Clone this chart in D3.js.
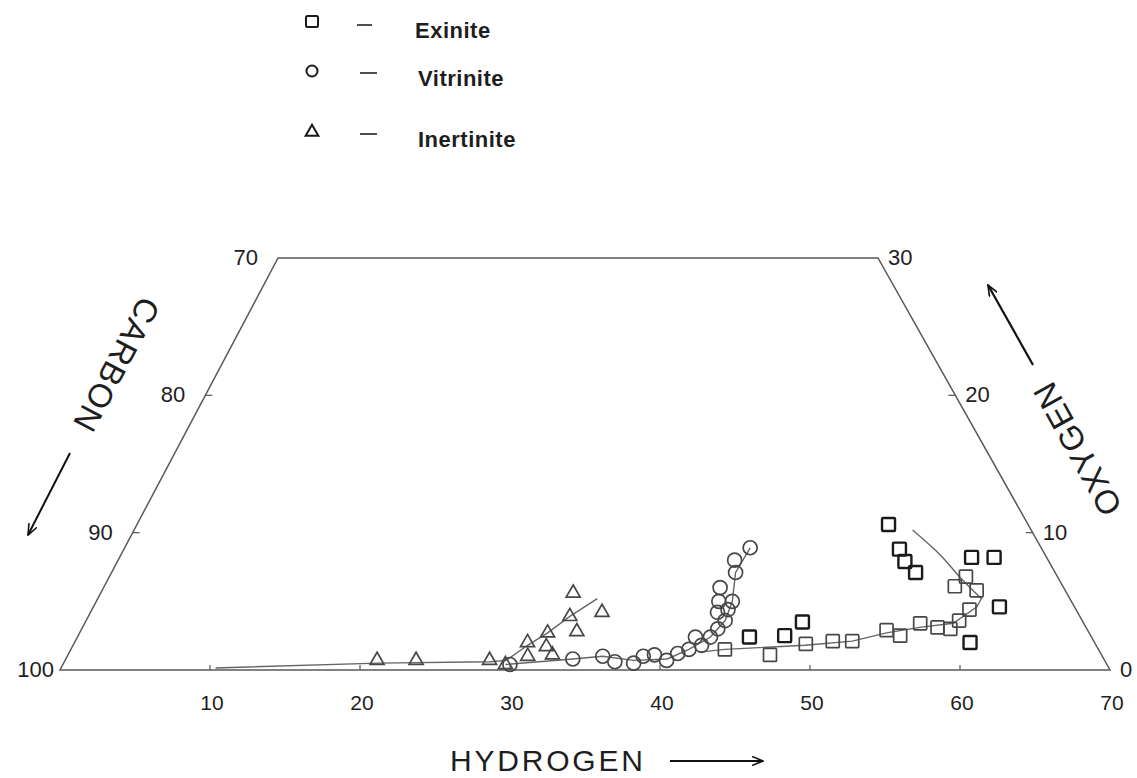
<!DOCTYPE html>
<html lang="en">
<head>
<meta charset="utf-8">
<title>C-H-O diagram of macerals</title>
<script src="https://d3js.org/d3.v7.min.js"></script>
<style>
    body { margin: 0; background: #fff; }
    text { font-family: "Liberation Sans", Arial, sans-serif; fill: #1e1e1e; }
</style>
</head>
<body>
<script>
// atomic percent, each point is [hydrogen, oxygen]; carbon = 100 - H - O
var exinite = [[43.6,1.5],[46.8,1.1],[48.8,1.9],[50.5,2.1],[51.8,2.1],[53.7,2.9],[54.8,2.5],
               [55.7,3.4],[57.0,3.1],[57.9,3.0],[58.2,3.6],[58.5,4.4],[57.1,6.8],[56.7,6.1],[58.3,5.8]];
var exiniteOther = [[44.8,2.4],[47.1,2.5],[47.8,3.5],[50.1,10.6],[51.7,8.8],[52.5,7.9],[53.6,7.1],
                    [56.8,8.2],[58.3,8.2],[60.4,4.6],[59.7,2.0]];
var vitrinite = [[29.8,0.4],[33.8,0.8],[35.7,1.0],[36.7,0.6],[38.0,0.5],[38.4,1.0],[39.1,1.1],[40.1,0.7],
                 [40.6,1.2],[41.2,1.5],[41.2,2.4],[41.9,1.8],[42.2,2.4],[42.4,3.0],[42.6,3.6],[41.8,4.2],
                 [42.4,4.4],[41.5,5.0],[42.4,5.0],[41.1,6.0],[41.6,7.1],[41.1,8.0],[41.7,8.9]];
var inertinite = [[20.8,0.7],[23.4,0.7],[28.3,0.7],[29.5,0.4],[30.2,2.0],[30.7,1.0],[31.2,2.7],
                  [31.6,1.7],[32.3,1.1],[32.1,3.9],[33.1,2.8],[31.5,5.6],[34.1,4.2]];

// hand drawn trend lines
var inertiniteTrend = [[10.3,0.15],[21.0,0.5],[28.4,0.6],[29.4,0.7],[30.3,1.8],[31.2,2.7],[32.1,3.9],[33.3,5.2]];
var vitriniteTrend = [[29.5,0.4],[33.8,0.8],[35.7,1.0],[37.9,0.7],[40.1,0.8],[41.2,1.5],[42.2,2.4],
                      [42.6,3.6],[42.4,5.0],[41.6,7.1],[41.7,8.9]];
var exiniteTrend = [[42.0,1.3],[43.6,1.5],[48.8,1.8],[51.8,2.1],[53.8,2.7],[55.8,3.1],[57.9,3.4],[58.9,4.6],[58.9,5.3]];
var exiniteCurve = [[51.9,10.2],[54.6,8.4],[56.8,6.7],[58.9,5.2]];

var hydrogenTicks = [10, 20, 30, 40, 50, 60, 70];
var carbonTicks = [100, 90, 80, 70];
var oxygenTicks = [0, 10, 20, 30];
var legendNames = ["Exinite", "Vitrinite", "Inertinite"];

var width = 1137, height = 778;
var svg = d3.select("body").append("svg")
    .attr("width", width)
    .attr("height", height);

var x = d3.scaleLinear().domain([0, 70]).range([60, 1110]);
var y = d3.scaleLinear().domain([0, 30]).range([670, 258]);
var shear = d3.scaleLinear().domain([0, 30]).range([0, 218]);   // ternary slant
function px(h, o) { return x(h) + shear(o); }

var ink = "#474747";

// frame: O=0 bottom, H=0 left, O=30 top, C=30 right
var frame = [[0, 0], [70, 0], [40, 30], [0, 30]];
svg.append("polygon")
    .attr("points", frame.map(function(d) { return px(d[0], d[1]) + "," + y(d[1]); }).join(" "))
    .attr("fill", "none")
    .attr("stroke", "#5a5a5a")
    .attr("stroke-width", 1.5);

// small inward ticks
svg.selectAll(".htick").data(hydrogenTicks.slice(0, -1)).enter().append("line")
    .attr("x1", function(d) { return px(d, 0); })
    .attr("x2", function(d) { return px(d, 0); })
    .attr("y1", y(0)).attr("y2", y(0) - 5)
    .attr("stroke", "#555").attr("stroke-width", 1.2);
svg.selectAll(".ctick").data(carbonTicks.slice(1, -1)).enter().append("line")
    .attr("x1", function(d) { return px(0, 100 - d); })
    .attr("x2", function(d) { return px(0, 100 - d) + 7; })
    .attr("y1", function(d) { return y(100 - d); })
    .attr("y2", function(d) { return y(100 - d); })
    .attr("stroke", "#555").attr("stroke-width", 1.2);
svg.selectAll(".otick").data(oxygenTicks.slice(1, -1)).enter().append("line")
    .attr("x1", function(d) { return px(70 - d, d); })
    .attr("x2", function(d) { return px(70 - d, d) - 7; })
    .attr("y1", function(d) { return y(d); })
    .attr("y2", function(d) { return y(d); })
    .attr("stroke", "#555").attr("stroke-width", 1.2);

// tick labels
svg.selectAll(".hlab").data(hydrogenTicks).enter().append("text")
    .attr("x", function(d) { return px(d, 0) + 2; })
    .attr("y", 710)
    .attr("text-anchor", "middle")
    .attr("font-size", 21)
    .text(function(d) { return d; });
svg.selectAll(".clab").data(carbonTicks).enter().append("text")
    .attr("x", function(d) { return px(0, 100 - d) - (d === 100 ? 6 : 20); })
    .attr("y", function(d) { return y(100 - d) + 7; })
    .attr("text-anchor", "end")
    .attr("font-size", 22)
    .text(function(d) { return d; });
svg.selectAll(".olab").data(oxygenTicks).enter().append("text")
    .attr("x", function(d) { return px(70 - d, d) + 10; })
    .attr("y", function(d) { return y(d) + 7; })
    .attr("text-anchor", "start")
    .attr("font-size", 22)
    .text(function(d) { return d; });

// trend lines
var line = d3.line()
    .x(function(d) { return px(d[0], d[1]); })
    .y(function(d) { return y(d[1]); });
[inertiniteTrend, vitriniteTrend, exiniteTrend].forEach(function(t) {
    svg.append("path").attr("d", line(t))
        .attr("fill", "none").attr("stroke", "#666").attr("stroke-width", 1.4);
});
svg.append("path").attr("d", line.curve(d3.curveCatmullRom)(exiniteCurve))
    .attr("fill", "none").attr("stroke", "#666").attr("stroke-width", 1.4);

// markers
var sq = 13;
svg.append("g").selectAll("rect").data(exinite).enter().append("rect")
    .attr("x", function(d) { return px(d[0], d[1]) - sq / 2; })
    .attr("y", function(d) { return y(d[1]) - sq / 2; })
    .attr("width", sq).attr("height", sq).attr("rx", 1)
    .attr("fill", "none").attr("stroke", ink).attr("stroke-width", 1.7);
svg.append("g").selectAll("rect").data(exiniteOther).enter().append("rect")
    .attr("x", function(d) { return px(d[0], d[1]) - sq / 2; })
    .attr("y", function(d) { return y(d[1]) - sq / 2; })
    .attr("width", sq).attr("height", sq).attr("rx", 1)
    .attr("fill", "none").attr("stroke", "#1a1a1a").attr("stroke-width", 2.4);
svg.append("g").selectAll("circle").data(vitrinite).enter().append("circle")
    .attr("cx", function(d) { return px(d[0], d[1]); })
    .attr("cy", function(d) { return y(d[1]); })
    .attr("r", 7)
    .attr("fill", "none").attr("stroke", ink).attr("stroke-width", 1.7);
var tri = d3.symbol().type(d3.symbolTriangle).size(85);
svg.append("g").selectAll("path").data(inertinite).enter().append("path")
    .attr("d", tri)
    .attr("transform", function(d) { return "translate(" + px(d[0], d[1]) + "," + y(d[1]) + ")"; })
    .attr("fill", "none").attr("stroke", ink).attr("stroke-width", 1.7);

// legend
var legendY = [22, 71, 132];
var legend = svg.append("g").selectAll("g").data(legendNames).enter().append("g")
    .attr("transform", function(d, i) { return "translate(312," + legendY[i] + ")"; });
legend.each(function(d, i) {
    var g = d3.select(this);
    if (i === 0) g.append("rect").attr("x", -6).attr("y", -6).attr("width", 12).attr("height", 11).attr("rx", 1.5);
    if (i === 1) g.append("circle").attr("r", 5.5);
    if (i === 2) g.append("path").attr("d", d3.symbol().type(d3.symbolTriangle).size(70));
    g.selectAll("rect,circle,path").attr("fill", "none").attr("stroke", "#1a1a1a").attr("stroke-width", 2);
});
legend.append("line")
    .attr("x1", function(d, i) { return i === 0 ? 45 : 48; })
    .attr("x2", function(d, i) { return i === 0 ? 60 : 65; })
    .attr("y1", function(d, i) { return i === 0 ? 3 : 2; })
    .attr("y2", function(d, i) { return i === 0 ? 3 : 2; })
    .attr("stroke", "#222").attr("stroke-width", 1.6);
legend.append("text")
    .attr("x", function(d, i) { return i === 0 ? 103 : 106; })
    .attr("y", function(d, i) { return i === 0 ? 16 : 15; })
    .attr("font-size", 22)
    .attr("font-weight", "bold")
    .attr("letter-spacing", 0.5)
    .text(function(d) { return d; });

// axis titles and arrows
svg.append("defs").append("marker")
    .attr("id", "head")
    .attr("viewBox", "0 0 12 10")
    .attr("refX", 11).attr("refY", 5)
    .attr("markerWidth", 12).attr("markerHeight", 10)
    .attr("markerUnits", "userSpaceOnUse")
    .attr("orient", "auto")
    .append("path")
    .attr("d", "M0,0.5 L11,5 L0,9.5")
    .attr("fill", "none").attr("stroke", "#111").attr("stroke-width", 1.6);

svg.append("text")
    .attr("transform", "translate(117,365) rotate(118)")
    .attr("text-anchor", "middle")
    .attr("dy", "0.36em")
    .attr("font-size", 33)
    .attr("letter-spacing", 1)
    .text("CARBON");
svg.append("line")
    .attr("x1", 70).attr("y1", 453).attr("x2", 28).attr("y2", 535)
    .attr("stroke", "#111").attr("stroke-width", 2)
    .attr("marker-end", "url(#head)");

svg.append("text")
    .attr("transform", "translate(1077,449) rotate(-119)")
    .attr("text-anchor", "middle")
    .attr("dy", "0.36em")
    .attr("font-size", 33)
    .attr("letter-spacing", 1)
    .text("OXYGEN");
svg.append("line")
    .attr("x1", 1033).attr("y1", 365).attr("x2", 988).attr("y2", 285)
    .attr("stroke", "#111").attr("stroke-width", 2.2)
    .attr("marker-end", "url(#head)");

svg.append("text")
    .attr("x", 450).attr("y", 771)
    .attr("font-size", 30)
    .attr("letter-spacing", 2.8)
    .text("HYDROGEN");
svg.append("line")
    .attr("x1", 670).attr("y1", 761).attr("x2", 763).attr("y2", 761)
    .attr("stroke", "#111").attr("stroke-width", 1.8)
    .attr("marker-end", "url(#head)");
</script>
</body>
</html>
